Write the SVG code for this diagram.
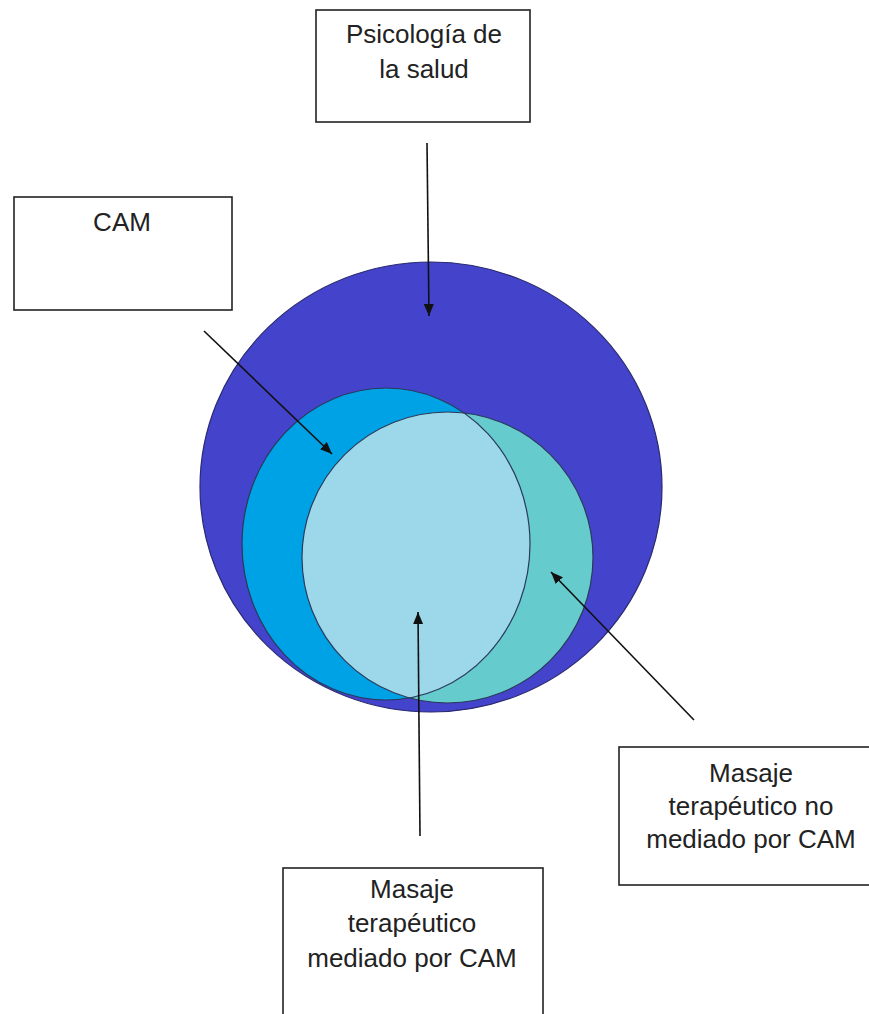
<svg xmlns="http://www.w3.org/2000/svg" width="869" height="1014" viewBox="0 0 869 1014">
<style>
.box{fill:#fff;stroke:#222;stroke-width:1.6}
.lbl{font-family:"Liberation Sans",Arial,sans-serif;font-size:26px;fill:#222;text-anchor:middle}
.con{stroke:#111;stroke-width:1.6;fill:none;marker-end:url(#ah)}
.ol{fill:none;stroke:#2a3a5a;stroke-width:1.2}
</style>
<defs>
<marker id="ah" viewBox="0 0 12 10" refX="12" refY="5" markerWidth="12" markerHeight="10" markerUnits="userSpaceOnUse" orient="auto">
<path d="M0,0 L12,5 L0,10 z" fill="#111"/>
</marker>
<clipPath id="camclip"><ellipse cx="386" cy="544" rx="144" ry="156"/></clipPath>
</defs>
<g id="venn">
<ellipse cx="431" cy="487" rx="231" ry="225" fill="#4343CC" stroke="#2a2a70" stroke-width="1.2"/>
<ellipse cx="386" cy="544" rx="144" ry="156" fill="#00A2E6"/>
<ellipse cx="447.5" cy="557.5" rx="145.5" ry="145.5" fill="#66CBCC"/>
<ellipse cx="447.5" cy="557.5" rx="145.5" ry="145.5" fill="#9CD8EA" clip-path="url(#camclip)"/>
<ellipse class="ol" cx="386" cy="544" rx="144" ry="156"/>
<ellipse class="ol" cx="447.5" cy="557.5" rx="145.5" ry="145.5"/>
</g>
<g id="psicologia">
<rect class="box" x="316" y="10" width="214" height="112"/>
<text class="lbl" x="424" y="43">Psicología de</text>
<text class="lbl" x="424" y="78">la salud</text>
</g>
<g id="cam">
<rect class="box" x="14" y="197" width="218" height="113"/>
<text class="lbl" x="122" y="231">CAM</text>
</g>
<g id="no-mediado">
<rect class="box" x="619" y="747" width="264" height="138"/>
<text class="lbl" x="751" y="782">Masaje</text>
<text class="lbl" x="751" y="815">terapéutico no</text>
<text class="lbl" x="751" y="848">mediado por CAM</text>
</g>
<g id="mediado">
<rect class="box" x="283" y="868" width="260" height="160"/>
<text class="lbl" x="412" y="898">Masaje</text>
<text class="lbl" x="412" y="932">terapéutico</text>
<text class="lbl" x="412" y="967">mediado por CAM</text>
</g>
<g id="connectors">
<line class="con" x1="427" y1="143" x2="429" y2="316"/>
<line class="con" x1="204" y1="331" x2="332" y2="454"/>
<line class="con" x1="420" y1="836" x2="418" y2="612"/>
<line class="con" x1="694" y1="720" x2="551" y2="572"/>
</g>
</svg>
